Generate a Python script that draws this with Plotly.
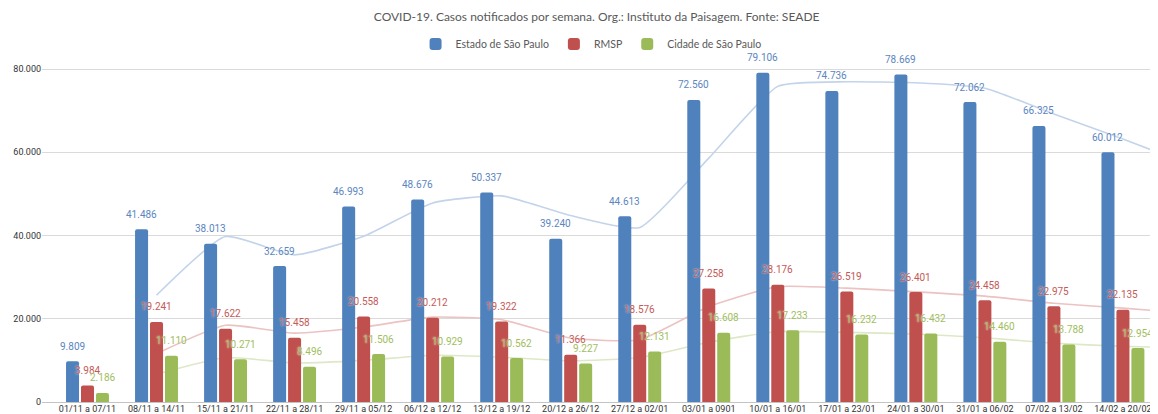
import plotly.graph_objects as go

categories = ["01/11 a 07/11", "08/11 a 14/11", "15/11 a 21/11", "22/11 a 28/11",
              "29/11 a 05/12", "06/12 a 12/12", "13/12 a 19/12", "20/12 a 26/12",
              "27/12 a 02/01", "03/01 a 0901", "10/01 a 16/01", "17/01 a 23/01",
              "24/01 a 30/01", "31/01 a 06/02", "07/02 a 13/02", "14/02 a 20/02"]

estado = [9809, 41486, 38013, 32659, 46993, 48676, 50337, 39240,
          44613, 72560, 79106, 74736, 78669, 72062, 66325, 60012]
rmsp = [3984, 19241, 17622, 15458, 20558, 20212, 19322, 11366,
        18576, 27258, 28176, 26519, 26401, 24458, 22975, 22135]
cidade = [2186, 11110, 10271, 8496, 11506, 10929, 10562, 9227,
          12131, 16608, 17233, 16232, 16432, 14460, 13788, 12954]

# light trend lines, from 2nd week on; last point lies past the visible edge
trend_estado = [25650, 39750, 35340, 39830, 47830, 49510, 44790, 41930,
                58590, 75830, 76920, 76700, 75370, 69190, 63170, 56800]
trend_rmsp = [11610, 18430, 16540, 18010, 20390, 19770, 15340, 14970,
              22920, 27720, 27350, 26460, 25430, 23720, 22560, 21200]
trend_cidade = [6650, 10690, 9380, 10000, 11220, 10750, 9890, 10680,
                14370, 16920, 16730, 16330, 15450, 14120, 13370, 13000]

series_names = ["Estado de São Paulo", "RMSP", "Cidade de São Paulo"]
bar_colors = ["#4f81bd", "#c0504d", "#9bbb59"]
label_colors = ["#5b86c0", "#c45a57", "#9fbe5e"]
trend_colors = ["#c3d4ea", "#ebc3c2", "#dde8c6"]

xi = list(range(len(categories)))
x_trend = list(range(1, len(categories) + 1))

BARGAP = 0.35
BARGROUPGAP = 0.13
slot = (1 - BARGAP) / 3
offsets = [-slot, 0.0, slot]

XR = [-0.659, 15.508]
YR = [0, 82162]

fig = go.Figure()

# trend lines on base axes (behind bars)
for tv, col in zip([trend_estado, trend_rmsp, trend_cidade], trend_colors):
    fig.add_trace(go.Scatter(x=x_trend, y=tv, mode="lines",
                             line=dict(color=col, width=1.6, shape="spline", smoothing=0.5),
                             showlegend=False, hoverinfo="skip", xaxis="x", yaxis="y"))

# bars on overlaying axes (drawn on top)
for name, vals, col in zip(series_names, [estado, rmsp, cidade], bar_colors):
    fig.add_trace(go.Bar(x=xi, y=vals, name=name, marker=dict(color=col, line=dict(width=0)),
                         xaxis="x2", yaxis="y2"))

def fmt(v):
    return f"{v:,}".replace(",", ".")

annotations = []
for vals, lc, off in zip([estado, rmsp, cidade], label_colors, offsets):
    for i, v in enumerate(vals):
        annotations.append(dict(x=i + off, y=v, xref="x", yref="y", text=fmt(v),
                                showarrow=False, yanchor="middle", yshift=15,
                                font=dict(family="Roboto, Arial, sans-serif", size=10, color=lc,
                                          shadow="0px 0px 2px white")))

fig.update_layout(
    width=1150, height=406,
    margin=dict(l=34, r=0, t=52, b=12),
    paper_bgcolor="white", plot_bgcolor="white",
    separators=",.",
    barmode="group", bargap=BARGAP, bargroupgap=BARGROUPGAP,
    barcornerradius=2,
    title=dict(text="COVID-19. Casos notificados por semana. Org.: Instituto da Paisagem. Fonte: SEADE",
               x=0.497, xref="paper", xanchor="center", y=0.978, yanchor="middle",
               font=dict(family="Lato, Arial, sans-serif", size=12, color="#595959")),
    legend=dict(orientation="h", x=0.492, xanchor="center", y=1.047, yanchor="middle",
                font=dict(family="Lato, Arial, sans-serif", size=10.5, color="#595959"),
                itemwidth=30, tracegroupgap=0, bgcolor="rgba(0,0,0,0)"),
    xaxis=dict(range=XR, tickmode="array", tickvals=xi, ticktext=categories,
               showgrid=False, zeroline=False, showline=False, ticks="",
               tickfont=dict(family="Roboto, Arial, sans-serif", size=9, color="#333333")),
    yaxis=dict(range=YR, tickvals=[0, 20000, 40000, 60000, 80000], tickformat=",d",
               showgrid=True, gridcolor="#dadada", gridwidth=1,
               zeroline=True, zerolinecolor="#c4c4c4", zerolinewidth=1,
               showline=False, ticks="", ticklabelstandoff=0,
               tickfont=dict(family="Roboto, Arial, sans-serif", size=9, color="#333333")),
    xaxis2=dict(range=XR, overlaying="x", visible=False),
    yaxis2=dict(range=YR, overlaying="y", visible=False),
    annotations=annotations,
    hovermode=False,
)

fig.write_html("out.html")
